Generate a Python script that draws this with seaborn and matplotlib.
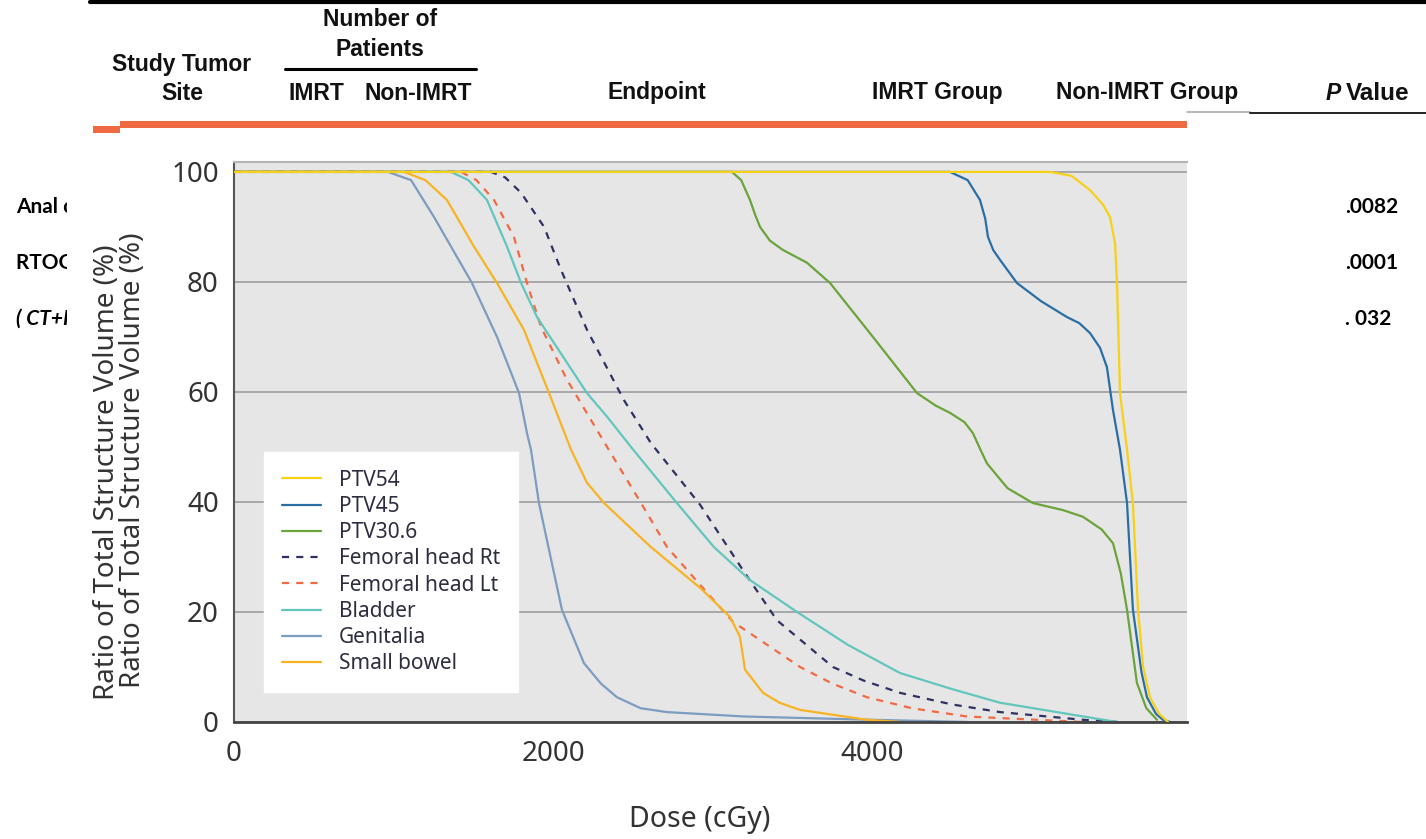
import pandas as pd
import seaborn as sns
import matplotlib.pyplot as plt
from matplotlib.patches import Rectangle
from matplotlib.lines import Line2D

# dose-volume histogram
structures = ["PTV54", "PTV45", "PTV30.6", "Femoral head Rt", "Femoral head Lt",
              "Bladder", "Genitalia", "Small bowel"]

ptv54_dose = [0, 5116, 5250, 5367, 5450, 5492, 5524, 5536, 5555, 5599, 5636, 5668, 5700, 5743, 5800, 5856]
ptv54_vol = [100, 100, 99.3, 96.7, 94, 91.8, 87, 79.8, 59.8, 49.5, 39.8, 20.4, 10, 4.5, 1.5, 0]

ptv45_dose = [0, 4489, 4600, 4677, 4710, 4727, 4760, 4803, 4909, 5060, 5223, 5300, 5367, 5430, 5473, 5511, 5555, 5599, 5636, 5690, 5724, 5780, 5824, 5870]
ptv45_vol = [100, 100, 98.5, 94.9, 91.5, 88.2, 85.8, 84, 79.8, 76.5, 73.6, 72.5, 70.7, 68, 64.5, 56.7, 49.5, 39.8, 20.4, 9, 4.5, 1.5, 0.4, 0]

ptv306_dose = [0, 3122, 3180, 3235, 3270, 3298, 3360, 3442, 3592, 3737, 4006, 4282, 4400, 4489, 4580, 4633, 4680, 4721, 4850, 5009, 5200, 5323, 5440, 5511, 5560, 5599, 5661, 5720, 5787]
ptv306_vol = [100, 100, 98.5, 94.9, 92, 90, 87.5, 85.8, 83.5, 79.8, 70, 59.8, 57.5, 56.2, 54.5, 52.5, 49.5, 47, 42.5, 39.8, 38.5, 37.3, 35, 32.5, 27, 20.4, 7.1, 2.5, 0.4]

fem_rt_dose = [0, 1611, 1700, 1800, 1944, 2050, 2213, 2445, 2614, 2922, 3191, 3404, 3755, 3950, 4176, 4500, 4803, 5323, 5550]
fem_rt_vol = [100, 100, 99, 96.2, 90, 82.2, 71.3, 58.5, 50.7, 39.5, 27.6, 18.5, 10, 7.5, 5.3, 3.2, 1.8, 0.4, 0]

fem_lt_dose = [0, 1423, 1520, 1630, 1755, 1837, 1925, 2088, 2339, 2552, 2715, 2966, 3129, 3549, 3750, 3969, 4250, 4596, 5323]
fem_lt_vol = [100, 100, 98.5, 94.9, 88.2, 79.8, 71.8, 62.2, 50, 39.8, 31.8, 23.5, 18.2, 10, 7, 4.5, 2.5, 1, 0]

bladder_dose = [0, 1360, 1470, 1586, 1712, 1800, 1900, 2088, 2213, 2339, 2489, 2777, 3009, 3235, 3530, 3850, 4176, 4500, 4803, 5536]
bladder_vol = [100, 100, 98.5, 94.9, 86.4, 79.8, 73.6, 65.3, 59.8, 55.5, 50, 39.8, 31.8, 25.8, 20, 14, 8.9, 6, 3.5, 0]

genitalia_dose = [0, 965, 1110, 1254, 1492, 1649, 1787, 1837, 1862, 1912, 2056, 2194, 2300, 2401, 2550, 2715, 3200, 4000, 4600]
genitalia_vol = [100, 100, 98.5, 91.8, 79.8, 70, 59.8, 52.5, 49.5, 39.8, 20.4, 10.7, 7, 4.5, 2.5, 1.8, 1.0, 0.4, 0]

bowel_dose = [0, 1066, 1200, 1335, 1505, 1649, 1818, 1975, 2113, 2213, 2320, 2614, 2922, 3110, 3172, 3204, 3317, 3420, 3549, 3969, 4180]
bowel_vol = [100, 100, 98.5, 94.9, 86.4, 79.8, 71.3, 59.8, 49.5, 43.5, 39.8, 31.8, 24.4, 19.1, 15.5, 9.5, 5.3, 3.5, 2.2, 0.4, 0]

# table fragments around the chart
header_cols = ["IMRT", "Non-IMRT", "Endpoint", "IMRT Group", "Non-IMRT Group"]
row_sites = ["Anal c", "RTOG 0", "( CT+R"]
p_values = [".0082", ".0001", ". 032"]

colors = {"PTV54": "#f7d117", "PTV45": "#2a6ea6", "PTV30.6": "#6ba43a",
          "Femoral head Rt": "#2e3161", "Femoral head Lt": "#f06a43",
          "Bladder": "#63c6bd", "Genitalia": "#7c9cc0", "Small bowel": "#f8b324"}
dashes = {s: "" for s in structures}
dashes["Femoral head Rt"] = (3.2, 3.2)
dashes["Femoral head Lt"] = (3.2, 3.2)

series = [ptv54_dose, ptv45_dose, ptv306_dose, fem_rt_dose, fem_lt_dose,
          bladder_dose, genitalia_dose, bowel_dose]
values = [ptv54_vol, ptv45_vol, ptv306_vol, fem_rt_vol, fem_lt_vol,
          bladder_vol, genitalia_vol, bowel_vol]
df = pd.concat([pd.DataFrame({"dose": d, "volume": v, "structure": s})
                for s, d, v in zip(structures, series, values)], ignore_index=True)

W, H = 1426, 839


def fx(px):
    return px / W


def fy(py):
    return 1 - py / H


sns.set_theme(style="white")
plt.rcParams["font.family"] = ["Noto Sans", "DejaVu Sans"]

fig = plt.figure(figsize=(14.26, 8.39), dpi=100)
ax = fig.add_axes([fx(234), fy(722), (1187 - 234) / W, (722 - 162) / H])
ax.set_zorder(5)

sns.lineplot(data=df, x="dose", y="volume", hue="structure", style="structure",
             hue_order=structures, style_order=structures, palette=colors,
             dashes=dashes, estimator=None, sort=False, linewidth=1.6, ax=ax)
ax.lines[0].set_zorder(3)  # PTV54 drawn on top at the 100% plateau

ax.set_xlim(0, 5975)
ax.set_ylim(0, 101.8)
ax.set_xticks([0, 2000, 4000])
ax.set_yticks([0, 20, 40, 60, 80, 100])
ax.set_facecolor("#e6e6e6")
ax.yaxis.grid(True, color="#a3a3a6", lw=1.3)
ax.set_axisbelow(True)
ax.tick_params(length=0, labelsize=20, colors="#333333")
ax.tick_params(axis="y", pad=11)
ax.tick_params(axis="x", pad=13)
ax.spines["left"].set_color("#555555")
ax.spines["left"].set_linewidth(1.5)
ax.spines["bottom"].set_color("#444444")
ax.spines["bottom"].set_linewidth(2)
ax.spines["top"].set_color("#b5b5b5")
ax.spines["top"].set_linewidth(1.5)
ax.spines["right"].set_visible(False)

ax.set_xlabel("Dose (cGy)", fontsize=20.5, color="#333333")
ax.xaxis.label.set_va("center")
ax.xaxis.set_label_coords((700 - 234) / 953, (722 - 820) / 560)
# the y label is printed twice, slightly offset, as in the source
ylab = "Ratio of Total Structure Volume (%)"
ax.set_ylabel(ylab, fontsize=20, color="#333333")
ax.yaxis.label.set_va("center")
ax.yaxis.set_label_coords((133 - 234) / 953, (722 - 460) / 560)
ax.text((107 - 234) / 953, (722 - 472) / 560, ylab, transform=ax.transAxes,
        rotation=90, ha="center", va="center", fontsize=20, color="#333333")

handles, labels = ax.get_legend_handles_labels()
ax.legend(handles, labels, loc="upper left", bbox_to_anchor=(0.0315, 0.482),
          borderaxespad=0, frameon=True, fancybox=False, facecolor="white",
          edgecolor="white", framealpha=1, fontsize=15, handlelength=1.9,
          handletextpad=0.85, labelspacing=0.25, borderpad=0.85, labelcolor="#2d2d40")

# table header drawn at figure level
hdr = dict(family="Liberation Sans", weight="bold", fontsize=16.5, color="#111111",
           ha="center", va="center")
fig.text(fx(380), fy(20), "Number of", **hdr)
fig.text(fx(380), fy(49), "Patients", **hdr)
fig.text(fx(182), fy(65), "Study Tumor", **hdr)
fig.text(fx(182), fy(93), "Site", **hdr)
for label, px in zip(header_cols, [316, 418, 657, 937, 1147]):
    fig.text(fx(px), fy(93), label, **hdr)
fig.text(fx(1341), fy(93), "P", style="italic",
         **{**hdr, "ha": "right"})
fig.text(fx(1346), fy(93), "Value", **{**hdr, "ha": "left", "fontsize": 17.5})

fig.add_artist(Line2D([fx(90), fx(1426)], [fy(2), fy(2)], color="black", lw=3))
fig.add_artist(Line2D([fx(285), fx(476)], [fy(69), fy(69)], color="black", lw=2.2))
fig.add_artist(Line2D([fx(1187), fx(1250)], [fy(112), fy(112)], color="#aaaaaa", lw=1.2))
fig.add_artist(Line2D([fx(1250), fx(1426)], [fy(113), fy(113)], color="#222222", lw=1.4))
fig.add_artist(Rectangle((fx(120), fy(128)), (1187 - 120) / W, 7 / H,
                         transform=fig.transFigure, color="#ef6a42", lw=0))
fig.add_artist(Rectangle((fx(93), fy(133)), 27 / W, 7 / H,
                         transform=fig.transFigure, color="#ef6a42", lw=0))

row_style = dict(family=["Lato", "DejaVu Sans"], weight="bold", fontsize=15,
                 color="black", va="center")
for i, (site, pv, py) in enumerate(zip(row_sites, p_values, [207, 263, 319])):
    fig.text(fx(16), fy(py), site, style="italic" if i == 2 else "normal", **row_style)
    fig.text(fx(1345), fy(py), pv, **row_style)

# the chart image sits over the table rows
fig.add_artist(Rectangle((fx(67), 0), (1190 - 67) / W, fy(138),
                         transform=fig.transFigure, color="white", lw=0, zorder=4))

fig.savefig("out.png", dpi=100)
